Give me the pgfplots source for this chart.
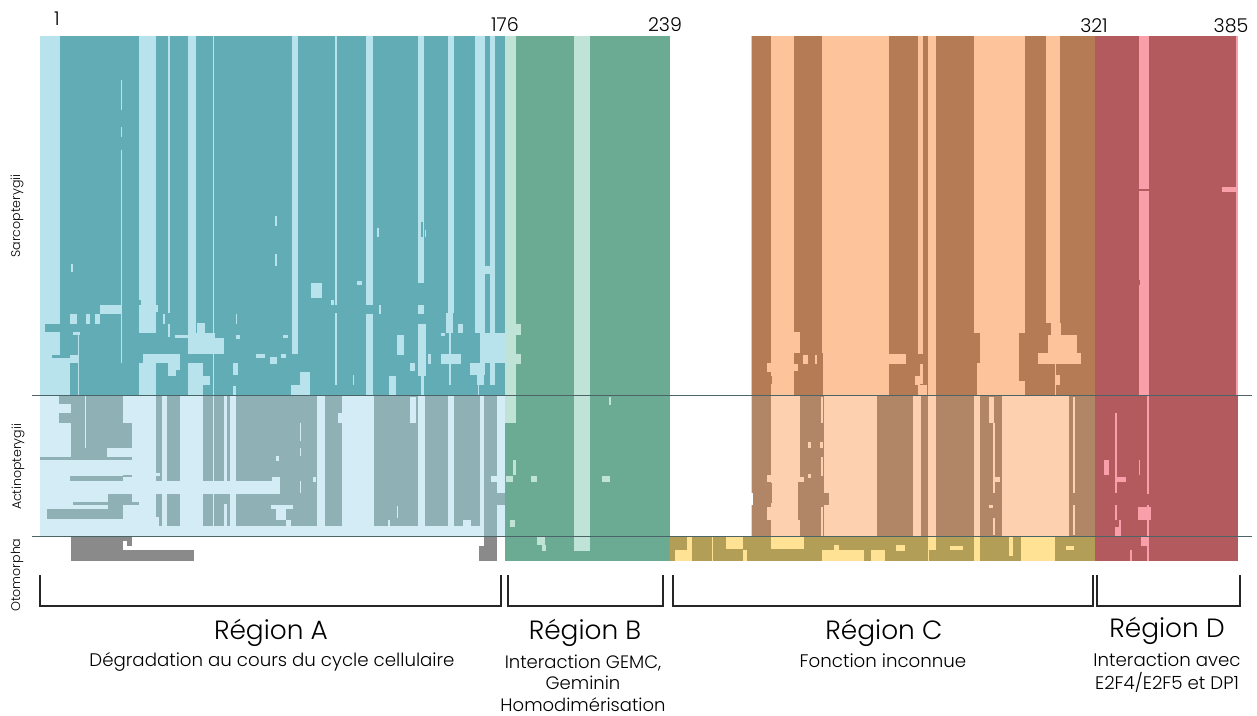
\documentclass[border=0pt]{standalone}
\usepackage{pgfplots}
\pgfplotsset{compat=1.18}
\usepackage{fontspec}
\setmainfont{Poppins}[UprightFont=* Light]
\definecolor{al}{HTML}{B8E2EC}\definecolor{ad}{HTML}{62ADB5}
\definecolor{bl}{HTML}{D3ECF5}\definecolor{bd}{HTML}{8FB0B5}
\definecolor{gr}{HTML}{8A8A8A}
\definecolor{gd}{HTML}{6BAB94}\definecolor{gl}{HTML}{C0E3D8}
\definecolor{cl}{HTML}{FDC49C}\definecolor{cd}{HTML}{B47B54}
\definecolor{el}{HTML}{FDD0B0}\definecolor{ed}{HTML}{B08667}
\definecolor{yl}{HTML}{FFE293}\definecolor{yd}{HTML}{B29E56}
\definecolor{rl}{HTML}{F99FAA}\definecolor{rd}{HTML}{B35A5F}
\definecolor{ln}{HTML}{4A6468}
% one alignment block: colour, x1, x2, y1, y2 (in image pixels)
\newcommand{\bx}[5]{\addplot[fill=#1,draw=none,forget plot] coordinates {(#2,#4)(#3,#4)(#3,#5)(#2,#5)} -- cycle;}
\newcommand{\fs}[2]{\fontsize{#1}{#2}\selectfont}
\begin{document}
\begin{tikzpicture}
\begin{axis}[scale only axis,width=1257pt,height=715pt,xmin=0,xmax=1257,ymin=0,ymax=715,
  y dir=reverse,hide axis,clip=false]
\bx{white}{0}{1257}{0}{715}
% --- region A, Sarcopterygii
\bx{ad}{40}{505}{36}{395}
\bx{al}{40}{60}{36}{324}\bx{al}{40}{45}{324}{336}\bx{al}{45}{60}{332}{336}\bx{al}{40}{60}{336}{355}\bx{al}{40}{52}{355}{358}
\bx{al}{40}{70}{358}{395}\bx{al}{70}{78}{355}{363}
\bx{al}{139}{156}{36}{333}\bx{ad}{139}{141}{300}{305}\bx{al}{143}{180}{354}{363}\bx{al}{139}{156}{363}{395}
\bx{al}{168}{180}{363}{376}\bx{ad}{176}{180}{370}{376}\bx{al}{156}{158}{305}{312}
\bx{al}{168}{170}{36}{313}\bx{al}{163}{165}{314}{324}\bx{al}{168}{170}{324}{337}\bx{al}{175}{188}{335}{338}
\bx{al}{188}{196}{36}{333}\bx{al}{197}{205}{323}{333}\bx{al}{188}{224}{333}{354}\bx{ad}{215}{224}{333}{338}
\bx{al}{188}{203}{363}{395}\bx{al}{203}{210}{376}{385}
\bx{al}{213}{214}{36}{395}\bx{al}{292}{298}{36}{354}
\bx{al}{100}{121}{305}{314}\bx{al}{70}{77}{314}{324}\bx{al}{86}{90}{314}{324}\bx{al}{95}{100}{314}{324}
\bx{al}{73}{80}{332}{335}\bx{al}{78}{79}{335}{395}
\bx{al}{121}{122}{80}{110}\bx{al}{121}{122}{127}{137}\bx{al}{121}{122}{150}{363}
\bx{al}{71}{73}{264}{272}\bx{al}{275}{277}{216}{226}\bx{al}{275}{277}{254}{266}
\bx{al}{233}{238}{363}{375}\bx{al}{233}{236}{386}{395}\bx{al}{236}{237}{314}{324}\bx{al}{236}{240}{335}{339}
\bx{al}{256}{265}{354}{358}\bx{al}{270}{277}{357}{364}\bx{al}{281}{286}{354}{358}\bx{al}{283}{288}{335}{338}
\bx{al}{291}{310}{385}{395}\bx{al}{300}{310}{372}{385}\bx{al}{311}{322}{283}{298}
\bx{al}{335}{337}{36}{305}\bx{al}{335}{337}{313}{385}\bx{al}{331}{334}{300}{305}
\bx{al}{357}{362}{281}{285}\bx{al}{353}{354}{375}{385}
\bx{al}{366}{373}{36}{305}\bx{al}{366}{373}{314}{395}\bx{al}{379}{381}{305}{314}
\bx{al}{377}{379}{228}{237}
\bx{al}{389}{396}{376}{395}\bx{al}{397}{404}{335}{355}\bx{al}{410}{415}{363}{371}
\bx{al}{418}{424}{36}{283}\bx{ad}{421}{423}{222}{237}\bx{al}{425}{426}{230}{237}\bx{al}{418}{424}{305}{314}\bx{al}{418}{426}{324}{376}\bx{al}{421}{424}{376}{395}
\bx{al}{428}{431}{354}{364}\bx{al}{448}{454}{36}{313}\bx{al}{446}{453}{313}{333}\bx{al}{449}{451}{333}{385}
\bx{al}{441}{461}{354}{364}\bx{al}{458}{463}{324}{333}\bx{al}{441}{445}{333}{336}
\bx{al}{475}{485}{36}{333}\bx{al}{490}{495}{36}{333}\bx{al}{480}{505}{333}{363}\bx{al}{470}{485}{363}{375}
\bx{al}{477}{484}{375}{385}\bx{al}{478}{479}{385}{395}\bx{al}{490}{495}{363}{385}
\bx{ad}{485}{490}{36}{333}\bx{al}{485}{490}{266}{274}
% --- region A, Actinopterygii
\bx{bl}{40}{505}{395}{536}
\bx{bd}{59}{71}{395}{404}\bx{bd}{59}{71}{413}{423}\bx{bd}{71}{123}{395}{423}\bx{bd}{71}{132}{423}{448}
\bx{bl}{85}{86}{395}{455}\bx{bd}{71}{107}{448}{457}\bx{bd}{40}{132}{457}{460}
\bx{bd}{70}{123}{476}{481}\bx{bd}{123}{132}{475}{477}
\bx{bd}{108}{132}{494}{502}\bx{bd}{73}{111}{502}{505}\bx{bd}{108}{139}{502}{505}\bx{bd}{47}{123}{509}{519}\bx{bd}{108}{123}{505}{509}
\bx{bd}{156}{162}{395}{473}\bx{bd}{160}{162}{473}{476}\bx{bd}{156}{162}{476}{481}\bx{bd}{156}{162}{494}{517}\bx{bd}{159}{162}{517}{526}
\bx{bd}{167}{180}{395}{481}\bx{bd}{167}{180}{494}{526}
\bx{bd}{203}{213}{395}{481}\bx{bd}{203}{213}{494}{526}
\bx{bd}{214}{224}{395}{481}\bx{bd}{214}{230}{494}{526}\bx{bl}{224}{227}{504}{526}\bx{bd}{227}{230}{395}{481}
\bx{bd}{236}{317}{395}{526}\bx{bl}{236}{280}{481}{494}\bx{bl}{272}{280}{477}{481}
\bx{bl}{300}{301}{423}{441}\bx{bl}{300}{301}{448}{456}\bx{bl}{300}{301}{481}{493}
\bx{bl}{276}{279}{456}{461}\bx{bl}{313}{316}{477}{482}
\bx{bl}{271}{293}{505}{509}\bx{bl}{276}{286}{509}{520}\bx{bl}{286}{291}{520}{526}
\bx{bd}{325}{342}{395}{526}\bx{bl}{338}{342}{413}{423}
\bx{bd}{374}{418}{395}{526}\bx{bl}{410}{416}{397}{423}\bx{bl}{397}{398}{506}{518}\bx{bl}{388}{390}{520}{526}
\bx{bd}{425}{448}{395}{526}\bx{bd}{454}{480}{395}{526}\bx{bl}{463}{471}{520}{526}
\bx{bd}{484}{497}{395}{536}\bx{bl}{491}{513}{476}{482}\bx{bd}{497}{505}{493}{505}
% --- region A, Otomorpha
\bx{gr}{71}{123}{536}{561}\bx{gr}{123}{132}{536}{541}\bx{gr}{127}{132}{541}{546}\bx{gr}{123}{194}{550}{561}
\bx{gr}{484}{497}{536}{561}\bx{gr}{479}{484}{546}{561}
% --- region B
\bx{gd}{505}{670}{36}{561}
\bx{gl}{505}{516}{36}{423}\bx{gl}{505}{521}{324}{335}\bx{gl}{516}{521}{354}{364}
\bx{gl}{574}{590}{36}{551}\bx{gl}{609}{611}{397}{405}\bx{gl}{513}{516}{460}{475}\bx{gl}{506}{513}{476}{482}
\bx{gl}{531}{537}{476}{482}\bx{gl}{602}{610}{476}{482}\bx{gl}{510}{515}{520}{527}
\bx{gl}{537}{545}{536}{545}\bx{gl}{542}{546}{545}{551}
% --- region C, Sarcopterygii
\bx{cl}{751}{1095}{36}{395}
\bx{cd}{752}{771}{36}{395}\bx{cl}{767}{771}{363}{372}\bx{cd}{771}{772}{376}{384}
\bx{cd}{794}{822}{36}{395}\bx{cl}{794}{800}{332}{353}\bx{cd}{794}{823}{353}{395}\bx{cl}{803}{808}{355}{364}\bx{cl}{815}{817}{355}{364}\bx{cl}{794}{798}{364}{371}
\bx{cd}{889}{918}{36}{395}\bx{cl}{889}{906}{354}{364}
\bx{cd}{923}{928}{36}{395}\bx{cd}{918}{923}{354}{395}\bx{cl}{920}{923}{364}{384}\bx{cl}{915}{920}{376}{385}\bx{cl}{918}{927}{385}{395}
\bx{cd}{936}{974}{36}{395}\bx{cd}{974}{980}{333}{363}\bx{cd}{974}{977}{363}{395}
\bx{cd}{1019}{1025}{333}{381}\bx{cd}{1025}{1046}{36}{395}\bx{cd}{1046}{1060}{323}{395}\bx{cd}{1060}{1095}{36}{395}
\bx{cl}{1051}{1061}{323}{335}\bx{cl}{1048}{1077}{335}{353}\bx{cl}{1038}{1081}{353}{364}\bx{cl}{1055}{1056}{364}{395}\bx{cl}{1056}{1060}{375}{385}
% --- region C, Actinopterygii
\bx{el}{751}{1095}{395}{536}
\bx{ed}{752}{771}{395}{536}\bx{el}{767}{771}{475}{482}\bx{el}{767}{771}{507}{520}\bx{ed}{771}{772}{483}{503}\bx{white}{751}{753}{493}{505}
\bx{ed}{800}{824}{395}{536}\bx{ed}{798}{800}{482}{520}\bx{ed}{824}{829}{493}{505}
\bx{el}{821}{823}{397}{423}\bx{el}{821}{823}{457}{476}\bx{el}{821}{823}{507}{536}
\bx{el}{808}{811}{442}{448}\bx{el}{820}{823}{442}{448}\bx{el}{808}{811}{474}{478}\bx{el}{800}{804}{477}{482}
\bx{ed}{877}{913}{395}{536}\bx{ed}{921}{928}{395}{536}\bx{ed}{936}{974}{395}{536}
\bx{ed}{980}{1002}{395}{536}\bx{el}{989}{994}{397}{423}\bx{el}{993}{995}{423}{493}\bx{el}{993}{1000}{477}{482}\bx{el}{989}{993}{505}{508}\bx{el}{993}{995}{518}{535}
\bx{ed}{1069}{1095}{395}{536}\bx{el}{1073}{1075}{397}{493}\bx{el}{1073}{1075}{505}{535}
% --- region C, Otomorpha
\bx{yd}{670}{1095}{536}{561}
\bx{yl}{675}{692}{550}{561}\bx{yl}{687}{692}{536}{550}\bx{yl}{712}{713}{536}{561}
\bx{yl}{726}{743}{536}{549}\bx{yl}{743}{747}{550}{561}\bx{yl}{771}{804}{536}{549}
\bx{yl}{822}{864}{550}{561}\bx{yl}{834}{839}{545}{550}\bx{yl}{871}{885}{550}{561}\bx{yl}{896}{905}{545}{551}
\bx{yl}{928}{936}{536}{550}\bx{yl}{928}{929}{550}{561}\bx{yl}{950}{963}{546}{550}\bx{yl}{974}{980}{536}{561}
\bx{yl}{1009}{1013}{536}{556}\bx{yl}{1021}{1055}{536}{561}\bx{yl}{1066}{1074}{546}{550}
% --- region D
\bx{rd}{1095}{1238}{36}{561}
\bx{rl}{1139}{1149}{36}{395}\bx{rd}{1139}{1149}{189}{191}\bx{rl}{1236}{1238}{36}{395}\bx{rl}{1222}{1238}{187}{192}
\bx{rd}{1139}{1140}{280}{285}\bx{rl}{1147}{1149}{395}{494}\bx{rl}{1115}{1117}{413}{493}\bx{rl}{1116}{1126}{477}{482}
\bx{rl}{1104}{1109}{460}{475}\bx{rl}{1139}{1140}{460}{475}\bx{rl}{1115}{1117}{505}{520}\bx{rl}{1138}{1151}{507}{520}
\bx{rl}{1147}{1149}{505}{561}\bx{rl}{1115}{1121}{527}{536}\bx{rl}{1119}{1121}{520}{527}\bx{rl}{1141}{1147}{537}{546}\bx{rl}{1130}{1132}{550}{561}
% --- separators
\addplot[ln,line width=0.9pt,forget plot] coordinates {(32,395)(1252,395)};
\addplot[ln,line width=0.9pt,forget plot] coordinates {(32,536)(1252,536)};
% --- brackets
\addplot[black!85,line width=1.2pt,forget plot] coordinates {(40,575)(40,606)(501,606)(501,575)};
\addplot[black!85,line width=1.2pt,forget plot] coordinates {(508,575)(508,606)(663,606)(663,575)};
\addplot[black!85,line width=1.2pt,forget plot] coordinates {(673,575)(673,606)(1093,606)(1093,575)};
\addplot[black!85,line width=1.2pt,forget plot] coordinates {(1097,575)(1097,606)(1240,606)(1240,575)};
% --- texts
\node[anchor=center,font=\fs{19}{22}] at (axis cs:57,19) {1};
\node[anchor=center,font=\fs{19}{22}] at (axis cs:505,25) {176};
\node[anchor=center,font=\fs{19}{22}] at (axis cs:665,25) {239};
\node[anchor=center,font=\fs{19}{22}] at (axis cs:1094,26) {321};
\node[anchor=center,font=\fs{19}{22}] at (axis cs:1231,26) {385};
\node[rotate=90,font=\fs{12.6}{15}] at (axis cs:17,216) {Sarcopterygii};
\node[rotate=90,font=\fs{12.6}{15}] at (axis cs:18,467) {Actinopterygii};
\node[rotate=90,font=\fs{12.6}{15}] at (axis cs:17,575) {Otomorpha};
\node[font=\fs{26.4}{30}] at (axis cs:271,633) {Région A};
\node[font=\fs{26.4}{30}] at (axis cs:585,633) {Région B};
\node[font=\fs{26.4}{30}] at (axis cs:884,633) {Région C};
\node[font=\fs{26.4}{30}] at (axis cs:1167,631) {Région D};
\node[font=\fs{18.2}{22}] at (axis cs:272,662) {Dégradation au cours du cycle cellulaire};
\node[font=\fs{18}{21.5},align=center] at (axis cs:583,683) {Interaction GEMC,\\Geminin\\Homodimérisation};
\node[font=\fs{18.2}{22}] at (axis cs:883,661) {Fonction inconnue};
\node[font=\fs{18.2}{23},align=center] at (axis cs:1167,673) {Interaction avec\\E2F4/E2F5 et DP1};
\bx{white}{1075}{1094}{650}{696}
\end{axis}
\end{tikzpicture}
\end{document}
